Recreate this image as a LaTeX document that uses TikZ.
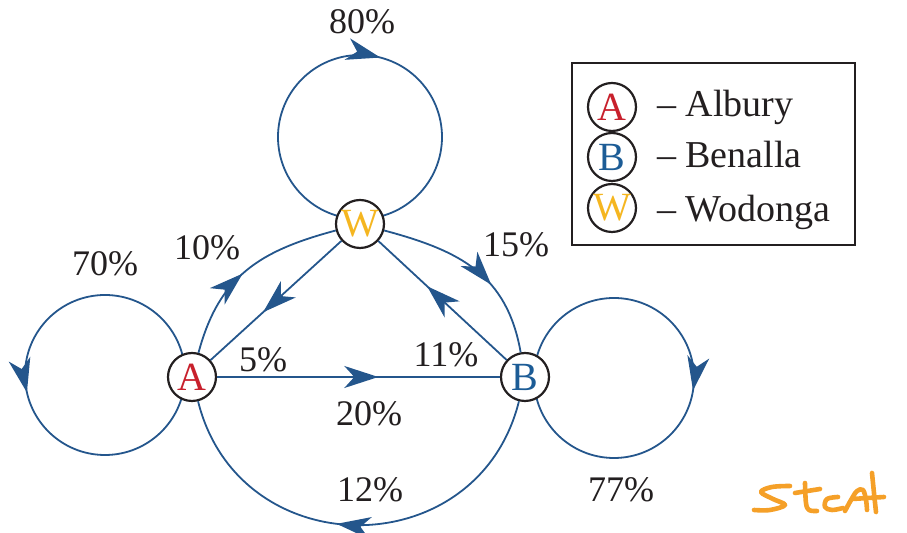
\documentclass[tikz,border=0pt]{standalone}
\usepackage{fontspec}
\setmainfont{Liberation Serif}
\usetikzlibrary{arrows.meta,calc,backgrounds,decorations.markings}
\definecolor{albury}{RGB}{200,32,44}
\definecolor{benalla}{RGB}{28,92,150}
\definecolor{wodonga}{RGB}{245,182,32}
\definecolor{route}{RGB}{36,86,140}
\definecolor{ink}{RGB}{35,31,32}
\definecolor{scrawl}{RGB}{245,160,40}

\begin{document}
\begin{tikzpicture}[x=0.5pt,y=0.5pt,
 town/.style={circle,draw=ink,line width=1.1pt,fill=white,minimum size=24pt,inner sep=0pt,font=\fontsize{20}{22}\selectfont},
 edge/.style={route,line width=0.9pt},
 pct/.style={text=ink,font=\fontsize{18}{20}\selectfont},
 legtext/.style={text=ink,anchor=base west,font=\fontsize{19}{21}\selectfont},
 midarrow/.style={postaction={decorate},decoration={markings,mark=at position #1 with {\arrow{Stealth[length=17pt,width=11pt,inset=5pt]}}}}]
\useasboundingbox (0,0) rectangle (907,-533);
% towns
\node[town,text=albury] (A) at (192,-377) {A};
\node[town,text=benalla] (B) at (525,-377) {B};
\node[town,text=wodonga] (W) at (360,-224) {W};
% staying in the same town
\begin{scope}[on background layer]
\draw[edge,midarrow=0.29] ($(W)+(-82,87)$) arc[start angle=180,end angle=-180,radius=82];
\draw[edge,midarrow=0.285] ($(A)+(-87,82)$) arc[start angle=90,end angle=450,radius=80];
\draw[edge,midarrow=0.275] ($(B)+(89,79)$) arc[start angle=90,end angle=-270,radius=80];
\end{scope}
% moving between towns
\draw[edge,midarrow=0.47] (A) to[out=75,in=195,looseness=1.1] (W);
\draw[edge,midarrow=0.6] (W) -- (A);
\draw[edge,midarrow=0.62] (W) to[out=-15,in=100,looseness=1.1] (B);
\draw[edge,midarrow=0.62] (B) -- (W);
\draw[edge,midarrow=0.57] (A) -- (B);
\draw[edge,midarrow=0.55] (B) to[out=256,in=284,looseness=1.36] (A);
% percentages
\node[pct] (pWW) at (362,-22) {80\%};
\node[pct] (pAA) at (105,-264) {70\%};
\node[pct] (pAW) at (207,-248) {10\%};
\node[pct] (pWA) at (263,-360) {5\%};
\node[pct] (pWB) at (516,-245) {15\%};
\node[pct] (pBW) at (446,-355) {11\%};
\node[pct] (pAB) at (369,-414) {20\%};
\node[pct] (pBA) at (370,-490) {12\%};
\node[pct] (pBB) at (621,-490) {77\%};
% key
\draw[ink,line width=0.8pt] (572,-63) rectangle (855,-245);
\node[town,text=albury] (kA) at (612,-107) {A};
\node[town,text=benalla] (kB) at (612,-157) {B};
\node[town,text=wodonga] (kW) at (612,-208) {W};
\node[legtext] (tA) at (650,-117) {– Albury};
\node[legtext] (tB) at (650,-168) {– Benalla};
\node[legtext] (tW) at (650,-222) {– Wodonga};
% handwritten note
\begin{scope}[scrawl,line width=2.3pt,line cap=round,line join=round]
\draw plot[smooth,tension=0.6] coordinates {(790,-486) (772,-487) (761,-492) (773,-499) (785,-505) (770,-510) (754,-510)};
\draw (795,-493) -- (820,-489);
\draw plot[smooth,tension=0.6] coordinates {(805,-483) (806,-503) (809,-510) (817,-511)};
\draw plot[smooth,tension=0.6] coordinates {(838,-497) (827,-499) (825,-507) (832,-510) (843,-508)};
\draw plot[smooth,tension=0.6] coordinates {(845,-511) (851,-500) (857,-491) (863,-490) (866,-500) (867,-510)};
\draw plot[smooth,tension=0.6] coordinates {(872,-473) (874,-493) (876,-512)};
\draw (852,-499) -- (884,-497);
\end{scope}
\end{tikzpicture}
\end{document}
